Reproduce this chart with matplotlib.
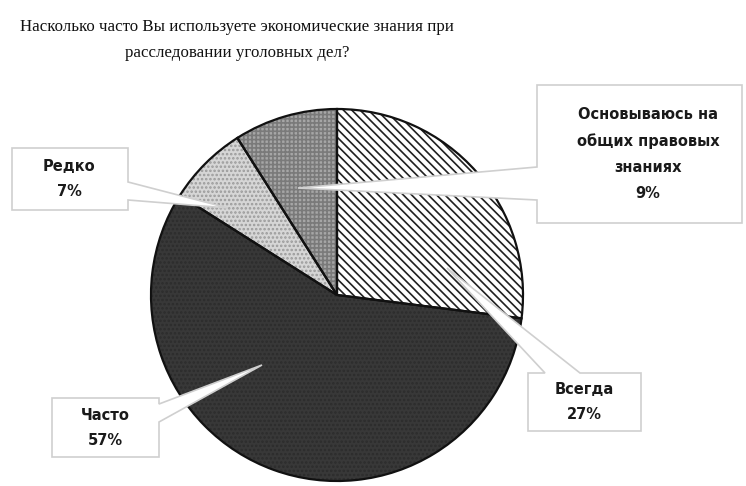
import matplotlib
matplotlib.use("Agg")
import matplotlib.pyplot as plt
from matplotlib.patches import Polygon

# data
labels = ["Всегда", "Часто", "Редко", "Основываюсь на\nобщих правовых\nзнаниях"]
values = [27, 57, 7, 9]
title_lines = ["Насколько часто Вы используете экономические знания при",
               "расследовании уголовных дел?"]

W, H = 746, 486
faces = ["#ffffff", "#383838", "#d6d6d6", "#a6a6a6"]
hatches = ["\\\\\\\\", "....", "....", "++++"]
hatch_cols = ["#202020", "#2c2c2c", "#9a9a9a", "#7a7a7a"]

plt.rcParams["hatch.linewidth"] = 1.2

fig = plt.figure(figsize=(W / 100, H / 100), dpi=100)
ax = fig.add_axes([0, 0, 1, 1])

def P(x, y):
    return (x, H - y)

cx, cy = P(337, 295)
r = 186

wedges, _ = ax.pie(values, colors=faces, startangle=90, counterclock=False,
                   center=(cx, cy), radius=r, wedgeprops=dict(linewidth=0))
for w, h, hc in zip(wedges, hatches, hatch_cols):
    w.set_hatch(h)
    w.set_edgecolor(hc)
ax.pie(values, colors=["none"] * 4, startangle=90, counterclock=False,
       center=(cx, cy), radius=r,
       wedgeprops=dict(linewidth=1.6, edgecolor="#111111", facecolor="none"))

ax.set_xlim(0, W)
ax.set_ylim(0, H)
ax.set_aspect("equal")
ax.axis("off")

# title
ax.text(*P(237, 27), title_lines[0], ha="center", va="center",
        fontsize=12.2, family="Liberation Serif", color="#111111")
ax.text(*P(237, 53), title_lines[1], ha="center", va="center",
        fontsize=12.2, family="Liberation Serif", color="#111111")

# callouts: box (x0, y0, x1, y1), side of pointer, pointer base, tip
callouts = [
    # Всегда
    dict(box=(528, 373, 641, 431), side="top", base=(545, 580), tip=(447, 268),
         text=labels[0] + "\n" + f"{values[0]}%", tc=(584, 402)),
    # Часто
    dict(box=(52, 398, 159, 457), side="right", base=(404, 422), tip=(262, 365),
         text=labels[1] + "\n" + f"{values[1]}%", tc=(105, 428)),
    # Редко
    dict(box=(12, 148, 128, 210), side="right", base=(182, 200), tip=(228, 208),
         text=labels[2] + "\n" + f"{values[2]}%", tc=(69, 179)),
    # Основываюсь
    dict(box=(537, 85, 742, 223), side="left", base=(167, 200), tip=(298, 188),
         text=labels[3] + "\n" + f"{values[3]}%", tc=(648, 154)),
]

for c in callouts:
    x0, y0, x1, y1 = c["box"]
    b0, b1 = c["base"]
    tx, ty = c["tip"]
    if c["side"] == "top":
        pts = [(x0, y0), (b0, y0), (tx, ty), (b1, y0), (x1, y0), (x1, y1), (x0, y1)]
    elif c["side"] == "right":
        pts = [(x0, y0), (x1, y0), (x1, b0), (tx, ty), (x1, b1), (x1, y1), (x0, y1)]
    else:
        pts = [(x0, y0), (x1, y0), (x1, y1), (x0, y1), (x0, b1), (tx, ty), (x0, b0)]
    poly = Polygon([P(x, y) for x, y in pts], closed=True, facecolor="white",
                   edgecolor="#cfcfcf", linewidth=1.2, zorder=5)
    ax.add_patch(poly)
    ax.text(*P(*c["tc"]), c["text"], ha="center", va="center", fontsize=10.5,
            fontweight="bold", color="#1a1a1a", linespacing=1.9, zorder=6)

fig.savefig("out.png", dpi=100)
